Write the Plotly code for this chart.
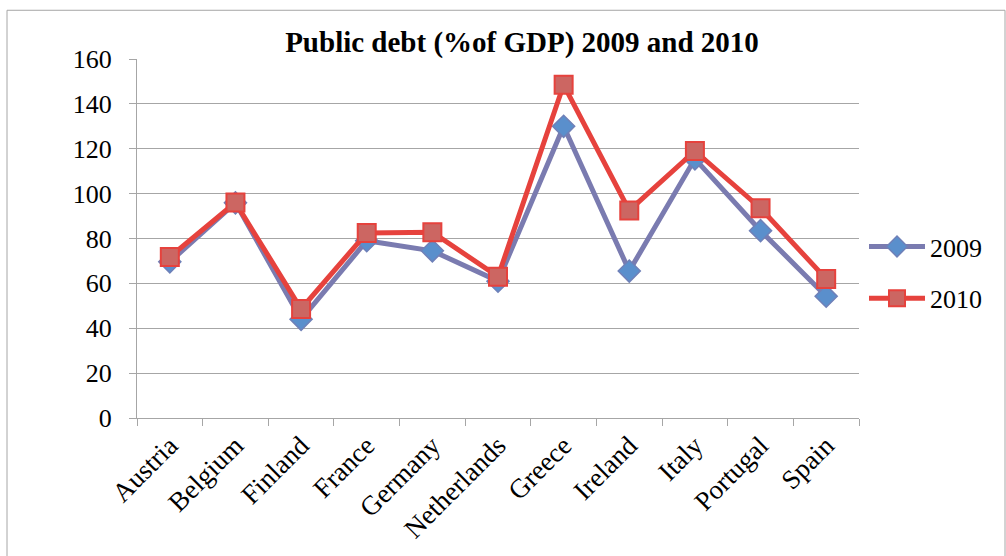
import plotly.graph_objects as go

countries = ["Austria", "Belgium", "Finland", "France", "Germany", "Netherlands",
             "Greece", "Ireland", "Italy", "Portugal", "Spain"]
debt_2009 = [69.6, 95.9, 44.0, 79.0, 74.5, 61.0, 130.0, 65.5, 115.5, 83.5, 54.3]
debt_2010 = [71.8, 96.0, 48.6, 82.5, 82.8, 63.0, 148.5, 92.5, 119.0, 93.5, 62.0]
y_ticks = [0, 20, 40, 60, 80, 100, 120, 140, 160]

W, H = 1006, 556
L, R, T, B = 137, 859, 59, 420   # plot-area edges in pixels

serif = "Liberation Serif"

fig = go.Figure()
fig.add_trace(go.Scatter(
    x=countries, y=debt_2009, name="2009", mode="lines+markers", legendgroup="a",
    line=dict(color="#7A7BB0", width=5),
    marker=dict(symbol="diamond", size=17, color="#5A8FCC",
                line=dict(color="#6F80B8", width=1.5)),
))
fig.add_trace(go.Scatter(
    x=countries, y=debt_2010, name="2010", mode="lines+markers", legendgroup="b",
    line=dict(color="#E6423D", width=5),
    marker=dict(symbol="square", size=18, color="#CC6662",
                line=dict(color="#E6423D", width=2)),
))

pw, ph = R - L, B - T
fig.add_shape(type="rect", xref="paper", yref="paper",
              x0=(7 - L) / pw, x1=(1005 - L) / pw,
              y0=(B - 560) / ph, y1=(B - 10) / ph,
              line=dict(color="#A6A6A6", width=1), layer="below")

fig.update_layout(
    width=W, height=H,
    margin=dict(l=L, r=W - R, t=T, b=H - B),
    paper_bgcolor="white", plot_bgcolor="white",
    title=dict(text="<b>Public debt (%of GDP) 2009 and 2010</b>",
               x=522 / W, xanchor="center", y=1 - 42 / H, yanchor="middle",
               font=dict(family=serif, size=29, color="black")),
    font=dict(family=serif, color="black"),
    showlegend=True,
    legend=dict(x=(864 - L) / pw, y=(B - 224) / ph, xanchor="left", yanchor="top",
                font=dict(family=serif, size=26, color="black"),
                itemwidth=56, tracegroupgap=15, bgcolor="rgba(0,0,0,0)"),
    xaxis=dict(type="category", tickangle=-45, tickson="boundaries",
               ticks="outside", ticklen=7, tickcolor="#A6A6A6",
               showline=True, linecolor="#A6A6A6", linewidth=1,
               showgrid=False, tickfont=dict(family=serif, size=27),
               range=[-0.5, len(countries) - 0.5]),
    yaxis=dict(range=[0, 160], tickvals=y_ticks, ticks="outside", ticklen=7,
               tickcolor="#A6A6A6", showline=True, linecolor="#A6A6A6",
               linewidth=1, showgrid=True, gridcolor="#A6A6A6", gridwidth=1,
               zeroline=False, ticklabelstandoff=12,
               tickfont=dict(family=serif, size=26)),
)

fig.write_html("out.html")
